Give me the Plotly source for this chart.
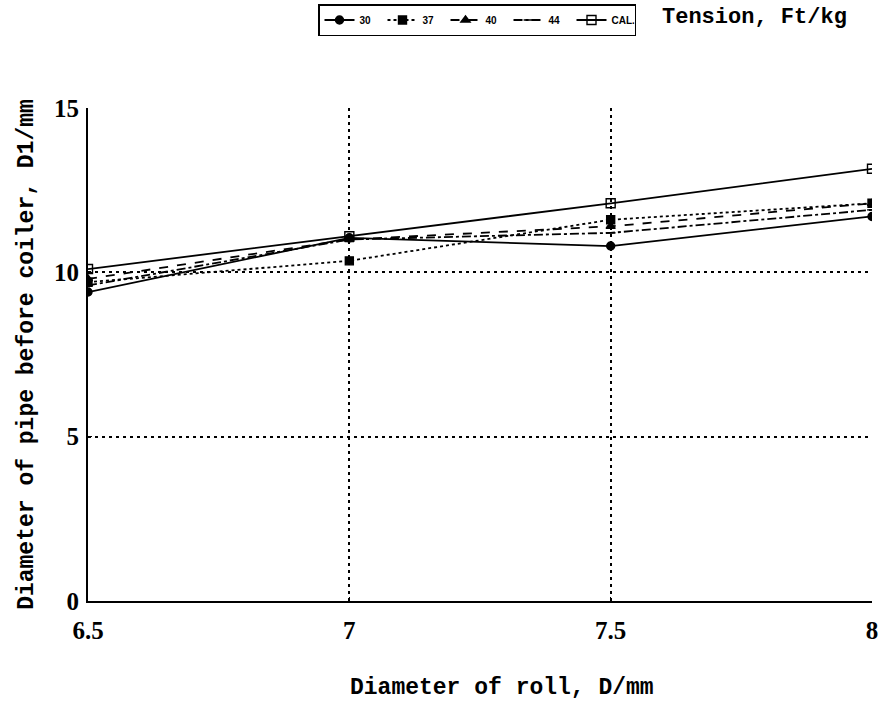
import plotly.graph_objects as go

x_roll = [6.5, 7, 7.5, 8]
s30 = [9.4, 11.05, 10.8, 11.7]
s37 = [9.7, 10.35, 11.6, 12.1]
s40 = [9.8, 11.0, 11.4, 12.1]
s44 = [9.6, 11.0, 11.2, 11.9]
cal = [10.1, 11.1, 12.1, 13.15]

series = [
    ("30", s30, "solid", "circle", 8),
    ("37", s37, "dot", "square", 8),
    ("40", s40, "dash", "triangle-up", 8),
    ("44", s44, "dashdot", "line-ew", 7),
    ("CAL.", cal, "solid", "square-open", 9),
]

fig = go.Figure()
for name, ys, dash, sym, sz in series:
    fig.add_trace(go.Scatter(
        x=x_roll, y=ys, name=name, mode="lines+markers",
        line=dict(color="black", width=1.8, dash=dash),
        marker=dict(symbol=sym, size=sz, color="black",
                    line=dict(color="black", width=1.4)),
    ))

mono = "Liberation Mono, Courier New, monospace"
axis_font = dict(family=mono, size=23, color="black")
tick_font = dict(family="Liberation Serif, Times New Roman, serif", size=25, color="black", weight="bold")

L, R, T, B = 88, 10, 108, 100
W, H = 882, 701
pw, ph = W - L - R, H - T - B

fig.update_layout(
    width=W, height=H,
    margin=dict(l=L, r=R, t=T, b=B, autoexpand=False),
    paper_bgcolor="white", plot_bgcolor="white",
    showlegend=True,
    legend=dict(orientation="h", x=318 / W, y=1 - 4 / H, xref="container", yref="container",
                xanchor="left", yanchor="top",
                bordercolor="black", borderwidth=1.5,
                font=dict(family="Liberation Sans, Arial", size=10, color="black", weight="bold"),
                entrywidth=18, tracegroupgap=0),
    xaxis=dict(range=[6.5, 8], tickvals=[6.5, 7, 7.5, 8], ticktext=["6.5", "7", "7.5", "8"],
               showgrid=True, gridcolor="black", griddash="3px,4px", gridwidth=1.5,
               showline=True, linecolor="black", linewidth=2, zeroline=False,
               ticks="inside", ticklen=4, tickcolor="black", ticklabelstandoff=6,
               automargin=False,
               tickfont=tick_font),
    yaxis=dict(range=[0, 15], tickvals=[0, 5, 10, 15],
               showgrid=True, gridcolor="black", griddash="3px,4px", gridwidth=1.5,
               showline=True, linecolor="black", linewidth=2, zeroline=False,
               ticks="inside", ticklen=4, tickcolor="black", ticklabelstandoff=2,
               automargin=False,
               tickfont=tick_font,
               title=dict(text="<b>Diameter of pipe before coiler, D1/mm</b>", font=axis_font, standoff=14)),
    annotations=[
        dict(text="<b>Tension, Ft/kg</b>", x=(660 - L) / pw, y=1 + (T - 18) / ph,
             xref="paper", yref="paper", xanchor="left", yanchor="middle",
             showarrow=False, font=dict(family=mono, size=22, color="black")),
        dict(text="<b>Diameter of roll, D/mm</b>", x=(502 - L) / pw, y=-(688 - T - ph) / ph,
             xref="paper", yref="paper", xanchor="center", yanchor="middle",
             showarrow=False, font=axis_font),
    ],
)
fig.write_html("out.html")
